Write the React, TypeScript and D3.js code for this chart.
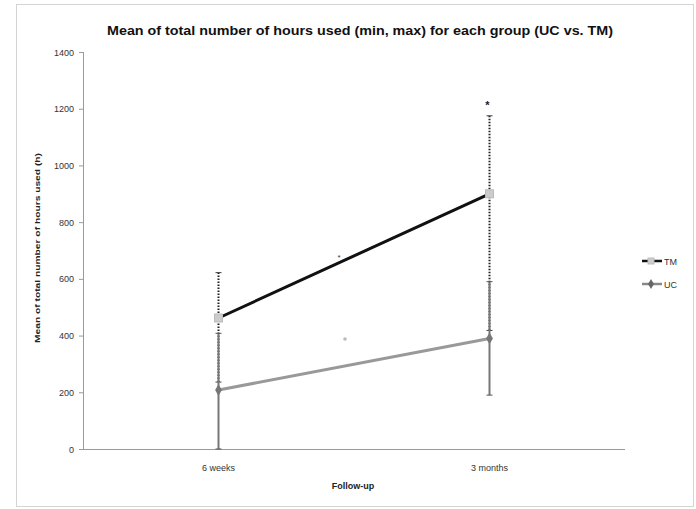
import React from "react";
import * as d3 from "d3";

const categories = ["6 weeks", "3 months"];
const tmMean = [462, 900];
const tmMin = [236, 418];
const tmMax = [622, 1175];
const ucMean = [208, 390];
const ucMin = [0, 190];
const ucMax = [408, 590];
const yTicks = [0, 200, 400, 600, 800, 1000, 1200, 1400];

const W = 696, H = 509;
const left = 83, right = 625, top = 52, bottom = 449;

export default function App() {
  const x = d3.scaleBand().domain(categories).range([left, right]).paddingInner(0).paddingOuter(0);
  const cx = (c: string) => (x(c) as number) + x.bandwidth() / 2;
  const y = d3.scaleLinear().domain([0, 1400]).range([bottom, top]);
  const line = d3.line<number>().x((_, i) => cx(categories[i])).y(d => y(d));
  const font = "Liberation Sans, Arial, sans-serif";
  return (
    <svg width={W} height={H} style={{ position: "absolute", left: 0, top: 0 }}>
      <rect x={0} y={0} width={W} height={H} fill="#fff" />
      <rect x={16.5} y={4.5} width={677} height={502} fill="none" stroke="#d4d4d4" />
      <text x={360} y={35} textAnchor="middle" fontFamily={font} fontWeight="bold" fontSize={13.5} textLength={506} lengthAdjust="spacingAndGlyphs" fill="#111">
        Mean of total number of hours used (min, max) for each group (UC vs. TM)
      </text>
      {/* axes */}
      <line x1={left + 0.5} x2={left + 0.5} y1={top} y2={bottom} stroke="#9a9a9a" />
      <line x1={left} x2={right} y1={bottom + 0.5} y2={bottom + 0.5} stroke="#9a9a9a" />
      {yTicks.map(t => (
        <g key={t}>
          <line x1={left - 4} x2={left} y1={y(t) + 0.5} y2={y(t) + 0.5} stroke="#9a9a9a" />
          <text x={left - 9} y={y(t) + 3.5} textAnchor="end" fontFamily={font} fontSize={9} fill="#333">{t}</text>
        </g>
      ))}
      {categories.map(c => (
        <text key={c} x={cx(c)} y={471} textAnchor="middle" fontFamily={font} fontSize={9} fill="#333">{c}</text>
      ))}
      <text x={353} y={489} textAnchor="middle" fontFamily={font} fontWeight="bold" fontSize={9} fill="#222">Follow-up</text>
      <text transform={`translate(40,${248}) rotate(-90)`} textAnchor="middle" fontFamily={font} fontWeight="bold" fontSize={8} textLength={190} lengthAdjust="spacingAndGlyphs" fill="#222">
        Mean of total number of hours used (h)
      </text>
      {/* TM error bars (dotted) */}
      {categories.map((c, i) => (
        <g key={"tm" + c}>
          <line x1={cx(c)} x2={cx(c)} y1={y(tmMax[i])} y2={y(tmMin[i])} stroke="#222" strokeWidth={2} strokeDasharray="1.5,1.5" />
          <line x1={cx(c) - 3} x2={cx(c) + 3} y1={y(tmMax[i])} y2={y(tmMax[i])} stroke="#444" />
          <line x1={cx(c) - 3} x2={cx(c) + 3} y1={y(tmMin[i])} y2={y(tmMin[i])} stroke="#444" />
        </g>
      ))}
      {/* UC error bars */}
      {categories.map((c, i) => (
        <g key={"uc" + c}>
          <line x1={cx(c)} x2={cx(c)} y1={y(ucMax[i])} y2={y(ucMin[i])} stroke="#777" strokeWidth={2} />
          <line x1={cx(c) - 3} x2={cx(c) + 3} y1={y(ucMax[i])} y2={y(ucMax[i])} stroke="#555" />
          <line x1={cx(c) - 3} x2={cx(c) + 3} y1={y(ucMin[i])} y2={y(ucMin[i])} stroke="#555" />
        </g>
      ))}
      <path d={line(tmMean) as string} fill="none" stroke="#111" strokeWidth={3} />
      <path d={line(ucMean) as string} fill="none" stroke="#999" strokeWidth={3} />
      {categories.map((c, i) => (
        <g key={"m" + c}>
          <rect x={cx(c) - 4} y={y(tmMean[i]) - 4} width={8} height={8} fill="#ccc" stroke="#bbb" />
          <path d={d3.symbol(d3.symbolDiamond, 40)() as string} transform={`translate(${cx(c)},${y(ucMean[i])})`} fill="#777" />
        </g>
      ))}
      <text x={cx(categories[1]) - 2} y={109} textAnchor="middle" fontFamily={font} fontWeight="bold" fontSize={11} fill="#222">*</text>
      <text x={339} y={260} textAnchor="middle" fontFamily={font} fontSize={8} fill="#333">*</text>
      <circle cx={345} cy={339} r={1.8} fill="#bbb" />
      {/* legend */}
      <g>
        <line x1={642} x2={662} y1={261} y2={261} stroke="#111" strokeWidth={2.5} />
        <rect x={648} y={258} width={6} height={6} fill="#ccc" stroke="#bbb" />
        <text x={664} y={264.5} fontFamily={font} fontSize={9} fill="#333">TM</text>
        <line x1={642} x2={662} y1={284} y2={284} stroke="#888" strokeWidth={2.5} />
        <path d={d3.symbol(d3.symbolDiamond, 30)() as string} transform="translate(651,284)" fill="#666" />
        <text x={664} y={287.5} fontFamily={font} fontSize={9} fill="#333">UC</text>
      </g>
    </svg>
  );
}
